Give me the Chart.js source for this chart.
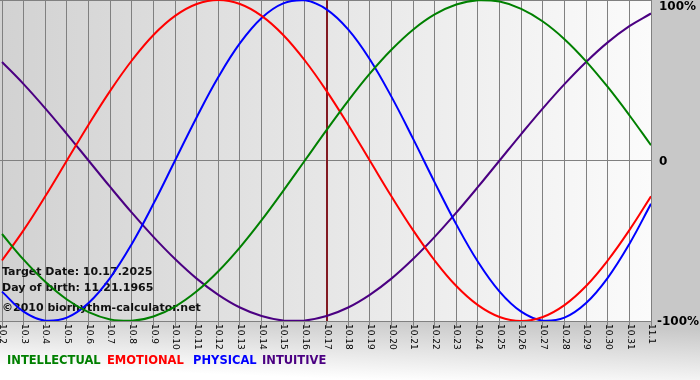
<!DOCTYPE html>
<html><head><meta charset="utf-8">
<script src="https://cdn.jsdelivr.net/npm/chart.js@4/dist/chart.umd.min.js"></script>
<style>html,body{margin:0;padding:0;background:#fff;overflow:hidden}#wrap{width:700px;height:380px;position:relative}</style>
</head><body><div id="wrap"><canvas id="c" width="700" height="380"></canvas></div>
<script>
const days = ['10.2','10.3','10.4','10.5','10.6','10.7','10.8','10.9','10.10','10.11','10.12','10.13','10.14','10.15','10.16','10.17','10.18','10.19','10.20','10.21','10.22','10.23','10.24','10.25','10.26','10.27','10.28','10.29','10.30','10.31','11.1'];
const intellectual = [-45.8,-61.8,-75.6,-86.6,-94.5,-99.0,-99.9,-97.2,-91.0,-81.5,-69.0,-54.1,-37.2,-18.9,0,18.9,37.2,54.1,69.0,81.5,91.0,97.2,99.9,99.0,94.5,86.6,75.6,61.8,45.8,28.2,9.5];
const emotional = [-62.3,-43.4,-22.3,0,22.3,43.4,62.3,78.2,90.1,97.5,100,97.5,90.1,78.2,62.3,43.4,22.3,0,-22.3,-43.4,-62.3,-78.2,-90.1,-97.5,-100,-97.5,-90.1,-78.2,-62.3,-43.4,-22.3];
const physical = [-81.7,-94.2,-99.8,-97.9,-88.8,-73.1,-52.0,-27.0,0,27.0,52.0,73.1,88.8,97.9,99.8,94.2,81.7,63.1,39.8,13.6,-13.6,-39.8,-63.1,-81.7,-94.2,-99.8,-97.9,-88.8,-73.1,-52.0,-27.0];
const intuitive = [61.4,47.6,32.5,16.5,0,-16.5,-32.5,-47.6,-61.4,-73.6,-83.7,-91.6,-96.9,-99.7,-99.7,-96.9,-91.6,-83.7,-73.6,-61.4,-47.6,-32.5,-16.5,0,16.5,32.5,47.6,61.4,73.6,83.7,91.6];
const seriesNames = ['INTELLECTUAL','EMOTIONAL','PHYSICAL','INTUITIVE'];
const seriesColors = ['#008000','#ff0000','#0000ff','#4b0082'];
const yTickValues = [100, 0, -100];
const yTickLabels = ['100%','0','-100%'];
const targetDay = '10.17';
const infoLines = ['Target Date: 10.17.2025','Day of birth: 11.21.1965','\u00A92010 biorhythm-calculator.net'];

const FONT = '"DejaVu Sans", Verdana, sans-serif';
const seriesData = [intellectual, emotional, physical, intuitive];

const decor = {
  id: 'decor',
  beforeDraw(chart) {
    const ctx = chart.ctx, a = chart.chartArea;
    ctx.save();
    const g = ctx.createLinearGradient(0, 303, -2.4, 366);
    g.addColorStop(0, '#c8c8c8');
    g.addColorStop(1, '#ffffff');
    ctx.fillStyle = g;
    ctx.fillRect(0, 0, chart.width, chart.height);
    const pg = ctx.createLinearGradient(a.left, 0, a.right, 0);
    pg.addColorStop(0, '#d2d2d2');
    pg.addColorStop(1, '#fbfbfb');
    ctx.fillStyle = pg;
    ctx.fillRect(a.left, a.top, a.right - a.left, a.bottom - a.top);
    ctx.restore();
  },
  beforeDatasetsDraw(chart) {
    const ctx = chart.ctx, a = chart.chartArea, xs = chart.scales.x;
    ctx.save();
    ctx.font = 'bold 11px ' + FONT;
    ctx.fillStyle = '#111';
    ctx.textAlign = 'left';
    ctx.textBaseline = 'alphabetic';
    const base = [275, 291, 311];
    infoLines.forEach((t, i) => ctx.fillText(t, 2, base[i]));
    const tx = Math.round(xs.getPixelForValue(days.indexOf(targetDay)));
    ctx.strokeStyle = '#821a22';
    ctx.lineWidth = 2;
    ctx.beginPath();
    ctx.moveTo(tx, a.top);
    ctx.lineTo(tx, a.bottom);
    ctx.stroke();
    ctx.restore();
  },
  afterDraw(chart) {
    const ctx = chart.ctx, a = chart.chartArea, xs = chart.scales.x, ys = chart.scales.y;
    ctx.save();
    // x labels, rotated clockwise
    ctx.font = '9px ' + FONT;
    ctx.fillStyle = '#000';
    ctx.textAlign = 'left';
    ctx.textBaseline = 'middle';
    days.forEach((d, i) => {
      const x = xs.getPixelForValue(i);
      ctx.save();
      ctx.translate(x + 0.5, a.bottom + 3);
      ctx.rotate(Math.PI / 2);
      ctx.fillText(d, 0, 0);
      ctx.restore();
    });
    // y labels on the right
    ctx.font = 'bold 12px ' + FONT;
    ctx.textBaseline = 'middle';
    yTickValues.forEach((v, i) => {
      let y = ys.getPixelForValue(v);
      y = Math.max(7, Math.min(chart.height - 7, y + 1));
      ctx.fillText(yTickLabels[i], a.right + (v < 0 ? 6 : 8), y);
    });
    // legend
    ctx.font = 'bold 11.5px ' + FONT;
    ctx.textBaseline = 'middle';
    const legendX = [7, 107, 193, 262];
    seriesNames.forEach((n, i) => {
      ctx.fillStyle = seriesColors[i];
      ctx.fillText(n, legendX[i], 361);
    });
    ctx.restore();
  }
};

new Chart(document.getElementById('c'), {
  type: 'line',
  data: {
    datasets: seriesNames.map((n, i) => ({
      label: n,
      data: seriesData[i].map((v, k) => ({x: k, y: v})),
      borderColor: seriesColors[i],
      backgroundColor: seriesColors[i],
      borderWidth: 2,
      pointRadius: 0,
      tension: 0.4,
      fill: false
    }))
  },
  options: {
    responsive: false,
    animation: false,
    devicePixelRatio: 1,
    layout: {padding: {left: 0, top: 0, right: 49, bottom: 54}},
    plugins: {legend: {display: false}, tooltip: {enabled: false}},
    scales: {
      x: {
        type: 'linear',
        min: -0.0925,
        max: days.length - 1,
        afterBuildTicks(s) { s.ticks = days.map((_, i) => ({value: i})); },
        afterFit(s) { s.height = 5; },
        ticks: {display: false},
        grid: {color: '#808080', lineWidth: 1, drawTicks: true, tickLength: 5, tickColor: '#808080'},
        border: {display: true, color: '#808080'}
      },
      y: {
        position: 'right',
        min: -100,
        max: 100,
        afterBuildTicks(s) { s.ticks = yTickValues.map(v => ({value: v})); },
        afterFit(s) { s.width = 0; },
        ticks: {display: false},
        grid: {color: '#808080', lineWidth: 1, drawTicks: false},
        border: {display: true, color: '#808080'}
      }
    }
  },
  plugins: [decor]
});
</script>
</body></html>
